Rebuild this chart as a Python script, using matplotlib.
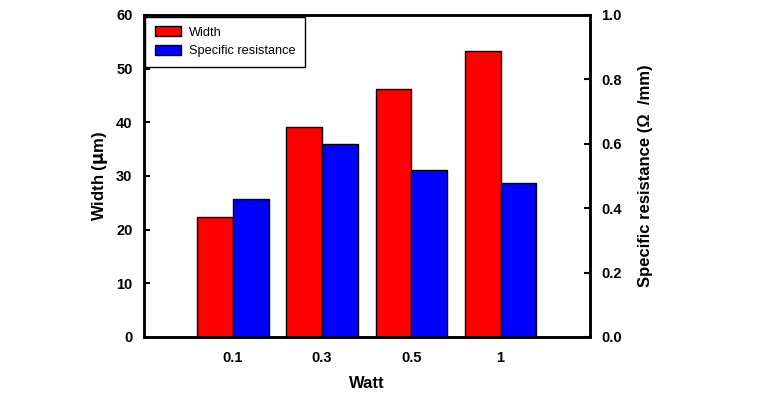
import numpy as np
import matplotlib
matplotlib.use('Agg')
import matplotlib.pyplot as plt
from matplotlib.patches import Patch

## data #######################################################################
watts = ['0.1', '0.3', '0.5', '1']
width_um = [22.4, 39.2, 46.2, 53.2]
spec_res = [0.43, 0.60, 0.52, 0.479]

plt.rcParams['font.family'] = ['Liberation Sans', 'DejaVu Sans']

fig = plt.figure(figsize=(7.68, 4.05), dpi=100, facecolor='white')
ax = fig.add_axes([0.187, 0.168, 0.581, 0.795])
ax2 = ax.twinx()

x = np.arange(1, len(watts) + 1)
bw = 0.4
ax.bar(x - bw / 2, width_um, bw, color='#ff0000', edgecolor='black', linewidth=1, zorder=2)
ax2.bar(x + bw / 2, spec_res, bw, color='#0000ff', edgecolor='black', linewidth=1, zorder=2)

ax.set_xlim(0, 5)
ax.set_ylim(0, 60)
ax2.set_ylim(0, 1.0)
ax.set_xticks(x)
ax.set_xticklabels(watts, fontsize=10.5, fontweight='bold')
ax.tick_params(axis='x', length=0, pad=10)
ax.set_yticks(np.arange(0, 61, 10))
ax.set_yticklabels([str(v) for v in range(0, 61, 10)], fontsize=10.5, fontweight='bold')
ax.tick_params(axis='y', direction='in', length=4, width=1.5, pad=8)
ax2.set_yticks(np.arange(0, 1.01, 0.2))
ax2.set_yticklabels(['%.1f' % v for v in np.arange(0, 1.01, 0.2)], fontsize=10.5, fontweight='bold')
ax2.tick_params(axis='y', direction='in', length=4, width=1.5, pad=8)

for a in (ax, ax2):
    for s in a.spines.values():
        s.set_linewidth(1.8)

ax.set_xlabel('Watt', fontsize=12, fontweight='bold', labelpad=8)
ax.set_ylabel('Width ($\\mathbf{\\mu}$m)', fontsize=12, fontweight='bold', labelpad=4)
ax2.set_ylabel('Specific resistance (\u03a9  /mm)', fontsize=12, fontweight='bold', labelpad=12)

handles = [Patch(facecolor='#ff0000', edgecolor='black', label='Width'),
           Patch(facecolor='#0000ff', edgecolor='black', label='Specific resistance')]
leg = ax2.legend(handles=handles, loc='upper left', bbox_to_anchor=(0.003, 0.995),
                 fontsize=9.2, fancybox=False, framealpha=1, edgecolor='black',
                 borderaxespad=0, handlelength=2.1, handleheight=0.8,
                 handletextpad=0.6, borderpad=0.75, labelspacing=0.5)
leg.get_frame().set_linewidth(1)

plt.savefig('out.png', dpi=100)
